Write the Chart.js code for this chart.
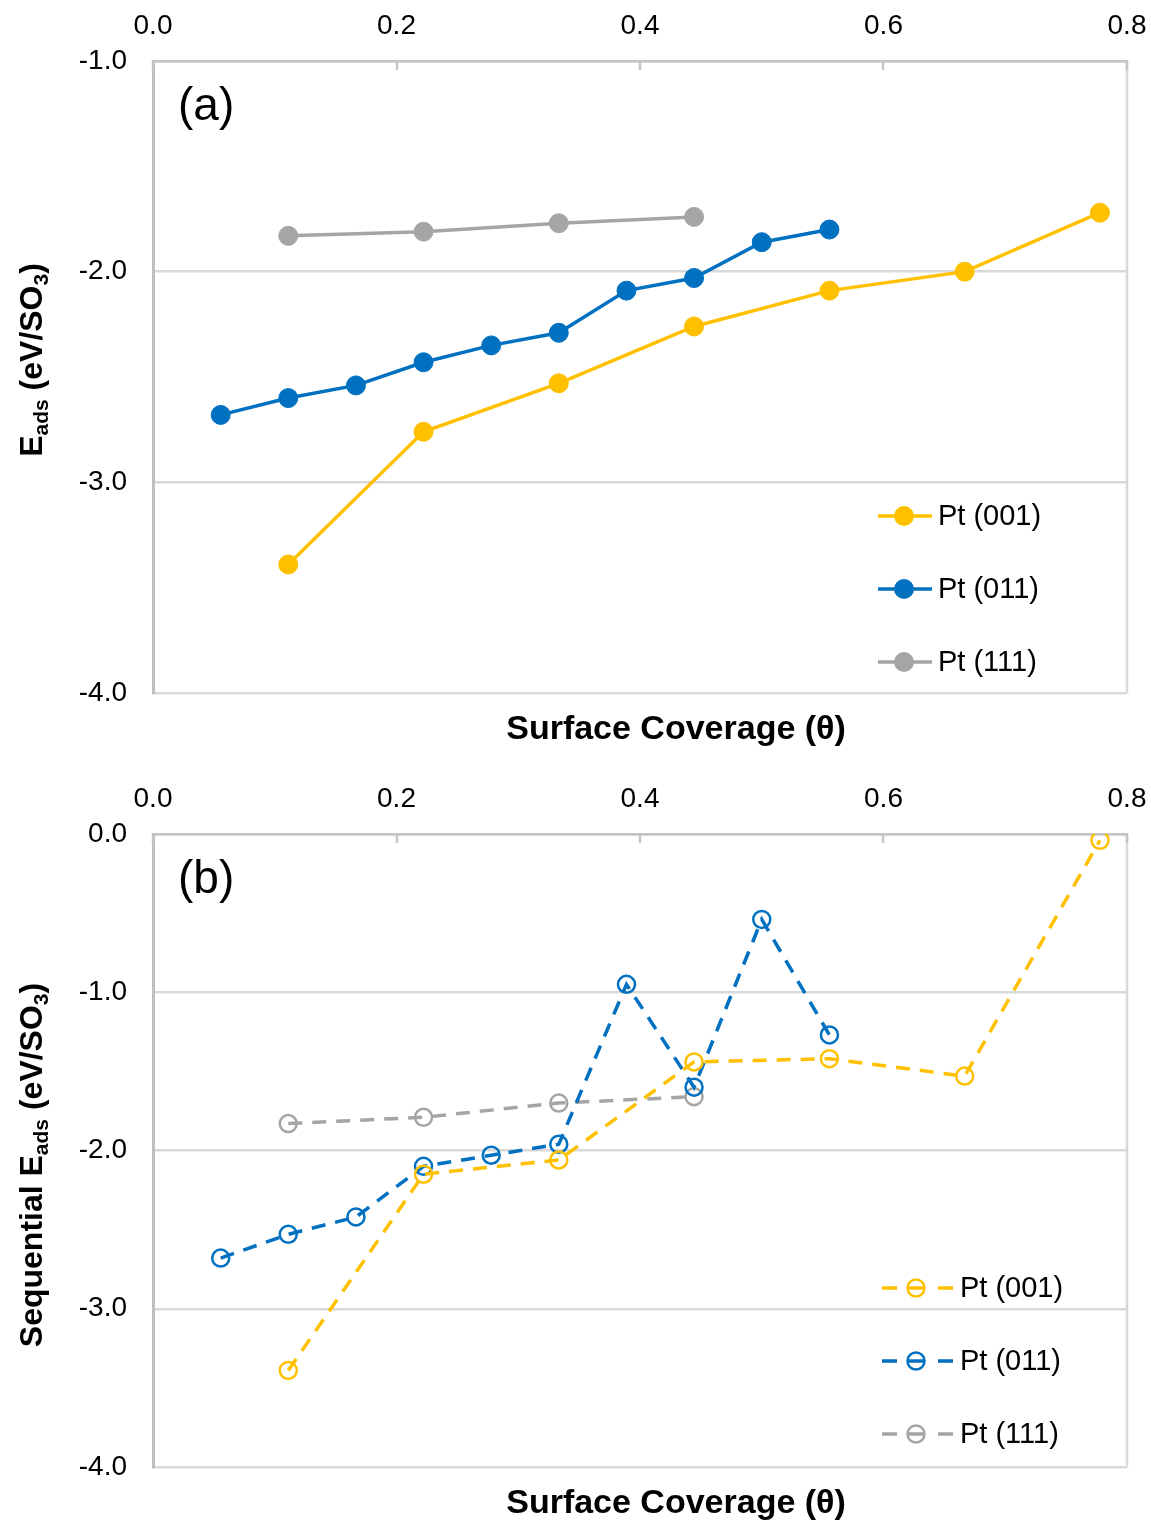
<!DOCTYPE html>
<html>
<head>
<meta charset="utf-8">
<script src="https://cdn.jsdelivr.net/npm/chart.js@4.4.1/dist/chart.umd.min.js"></script>
<style>
  body { margin: 0; background: #fff; }
  canvas { display: block; }
</style>
</head>
<body>
<canvas id="chartA" width="1151" height="760"></canvas>
<canvas id="chartB" width="1151" height="762"></canvas>
<script>
const FONT = '"Liberation Sans", Arial, Helvetica, sans-serif';

const seriesNames = ['Pt (001)', 'Pt (011)', 'Pt (111)'];
const seriesColors = ['#FFC000', '#0070C0', '#A5A5A5'];
const xTicks = [0.0, 0.2, 0.4, 0.6, 0.8];
const yTicksA = [-4.0, -3.0, -2.0, -1.0];
const yTicksB = [-4.0, -3.0, -2.0, -1.0, 0.0];

// surface coverage of each facet
const cov001 = [0.1111, 0.2222, 0.3333, 0.4444, 0.5556, 0.6667, 0.7778];
const cov011 = [0.0556, 0.1111, 0.1667, 0.2222, 0.2778, 0.3333, 0.3889, 0.4444, 0.5000, 0.5556];
const cov111 = [0.1111, 0.2222, 0.3333, 0.4444];

// (a) average adsorption energy, eV per SO3
const eads001 = [-3.39, -2.76, -2.53, -2.26, -2.09, -2.00, -1.72];
const eads011 = [-2.68, -2.60, -2.54, -2.43, -2.35, -2.29, -2.09, -2.03, -1.86, -1.80];
const eads111 = [-1.83, -1.81, -1.77, -1.74];

// (b) sequential adsorption energy, eV per SO3
const seq001 = [-3.39, -2.15, -2.06, -1.44, -1.42, -1.53, -0.04];
const seq011 = [-2.68, -2.53, -2.42, -2.10, -2.03, -1.96, -0.95, -1.60, -0.54, -1.27];
const seq111 = [-1.83, -1.79, -1.70, -1.66];

const toPoints = (xs, ys) => xs.map((x, i) => ({ x: x, y: ys[i] }));

// Box edges, inward ticks on the top axis, panel letter, titles and legend
const decorPlugin = {
    id: 'decor',
    beforeDatasetsDraw(chart, args, opts) {
        const ctx = chart.ctx;
        const area = chart.chartArea;
        const xs = chart.scales.x;
        ctx.save();
        ctx.strokeStyle = '#d9d9d9';
        ctx.lineWidth = 2.5;
        ctx.beginPath();
        ctx.moveTo(area.right, area.top);
        ctx.lineTo(area.right, area.bottom);
        ctx.stroke();
        ctx.strokeStyle = '#c4c4c4';
        xTicks.forEach(v => {
            const px = Math.round(xs.getPixelForValue(v));
            ctx.beginPath();
            ctx.moveTo(px, area.top);
            ctx.lineTo(px, area.top + 9);
            ctx.stroke();
        });
        ctx.restore();
    },
    afterDraw(chart, args, opts) {
        const ctx = chart.ctx;
        const area = chart.chartArea;
        ctx.save();
        ctx.fillStyle = '#000';

        // panel letter
        ctx.font = `46px ${FONT}`;
        ctx.textAlign = 'left';
        ctx.textBaseline = 'alphabetic';
        ctx.fillText(opts.panel, 178, area.top + 59);

        // x title
        ctx.font = `bold 34px ${FONT}`;
        ctx.textAlign = 'center';
        ctx.textBaseline = 'middle';
        ctx.fillText('Surface Coverage (\u03b8)', 676, area.bottom + 37);

        // y title with subscripts
        drawRotatedTitle(ctx, opts.yTitle, 30, area.top + opts.yTitleOffset, 32);

        // legend
        opts.legendRows.forEach((ry, i) => {
            const c = seriesColors[i];
            ctx.strokeStyle = c;
            ctx.lineWidth = 3.5;
            if (!opts.dashed) {
                ctx.beginPath();
                ctx.moveTo(878, ry);
                ctx.lineTo(932, ry);
                ctx.stroke();
                ctx.fillStyle = c;
                ctx.beginPath();
                ctx.arc(904, ry, 10, 0, Math.PI * 2);
                ctx.fill();
            } else {
                ctx.beginPath();
                ctx.moveTo(882, ry); ctx.lineTo(897, ry);
                ctx.moveTo(938, ry); ctx.lineTo(953, ry);
                ctx.moveTo(908, ry); ctx.lineTo(924, ry);
                ctx.stroke();
                ctx.lineWidth = 2.5;
                ctx.beginPath();
                ctx.arc(916, ry, 8.5, 0, Math.PI * 2);
                ctx.stroke();
            }
            ctx.fillStyle = '#000';
            ctx.font = `29px ${FONT}`;
            ctx.textAlign = 'left';
            ctx.textBaseline = 'middle';
            ctx.fillText(seriesNames[i], opts.dashed ? 960 : 938, ry + 1);
        });
        ctx.restore();
    }
};

function drawRotatedTitle(ctx, parts, cx, cy, size) {
    const big = `bold ${size}px ${FONT}`;
    const small = `bold ${Math.round(size * 0.65)}px ${FONT}`;
    let total = 0;
    const widths = parts.map(p => {
        ctx.font = p.sub ? small : big;
        const w = ctx.measureText(p.t).width;
        total += w;
        return w;
    });
    ctx.save();
    ctx.translate(cx, cy);
    ctx.rotate(-Math.PI / 2);
    ctx.textAlign = 'left';
    ctx.textBaseline = 'alphabetic';
    ctx.fillStyle = '#000';
    let x = -total / 2;
    parts.forEach((p, i) => {
        ctx.font = p.sub ? small : big;
        ctx.fillText(p.t, x, size * 0.36 + (p.sub ? size * 0.2 : 0));
        x += widths[i];
    });
    ctx.restore();
}

function makeDatasets(dataSets, dashed) {
    return dataSets.map((pts, i) => ({
        label: seriesNames[i],
        data: pts,
        borderColor: seriesColors[i],
        backgroundColor: seriesColors[i],
        borderWidth: 3.5,
        borderDash: dashed ? [14, 10] : [],
        pointRadius: dashed ? 8.5 : 9.5,
        pointBorderWidth: dashed ? 2.5 : 1,
        pointBackgroundColor: dashed ? 'rgba(0,0,0,0)' : seriesColors[i],
        pointBorderColor: seriesColors[i],
        tension: 0,
        fill: false
    }));
}

function makeOptions(yTicks, topHeight, bottomPad, decor) {
    return {
        responsive: false,
        animation: false,
        layout: { padding: { left: 0, right: 24, top: 0, bottom: bottomPad } },
        plugins: { legend: { display: false }, tooltip: { enabled: false }, decor: decor },
        scales: {
            x: {
                type: 'linear',
                position: 'top',
                min: 0,
                max: 0.8,
                afterBuildTicks: s => { s.ticks = xTicks.map(v => ({ value: v })); },
                afterFit: s => { s.height = topHeight; s.paddingLeft = 0; s.paddingRight = 0; },
                ticks: {
                    padding: 18,
                    color: '#000',
                    font: { family: FONT, size: 28 },
                    callback: v => Number(v).toFixed(1)
                },
                grid: { display: false, drawTicks: false },
                border: { display: true, color: '#c4c4c4', width: 2.5 }
            },
            y: {
                min: yTicks[0],
                max: yTicks[yTicks.length - 1],
                afterBuildTicks: s => { s.ticks = yTicks.map(v => ({ value: v })); },
                afterFit: s => { s.width = 153; s.paddingTop = 0; s.paddingBottom = 0; },
                ticks: {
                    padding: 26,
                    color: '#000',
                    font: { family: FONT, size: 28 },
                    callback: v => Number(v).toFixed(1)
                },
                grid: { color: '#d9d9d9', lineWidth: 2.5, drawTicks: false },
                border: { display: true, color: '#bfbfbf', width: 3 }
            }
        }
    };
}

new Chart(document.getElementById('chartA').getContext('2d'), {
    type: 'line',
    data: {
        datasets: makeDatasets([
            toPoints(cov001, eads001),
            toPoints(cov011, eads011),
            toPoints(cov111, eads111)
        ], false)
    },
    options: makeOptions(yTicksA, 61, 67, {
        panel: '(a)',
        yTitle: [
            { t: 'E' }, { t: 'ads', sub: true }, { t: ' (eV/SO' }, { t: '3', sub: true }, { t: ')' }
        ],
        yTitleOffset: 299,
        legendRows: [516, 589, 662],
        dashed: false
    }),
    plugins: [decorPlugin]
});

new Chart(document.getElementById('chartB').getContext('2d'), {
    type: 'line',
    data: {
        datasets: makeDatasets([
            toPoints(cov001, seq001),
            toPoints(cov011, seq011),
            toPoints(cov111, seq111)
        ], true)
    },
    options: makeOptions(yTicksB, 74, 55, {
        panel: '(b)',
        yTitle: [
            { t: 'Sequential E' }, { t: 'ads', sub: true }, { t: ' (eV/SO' }, { t: '3', sub: true }, { t: ')' }
        ],
        yTitleOffset: 331,
        legendRows: [528, 601, 674],
        dashed: true
    }),
    plugins: [decorPlugin]
});
</script>
</body>
</html>
